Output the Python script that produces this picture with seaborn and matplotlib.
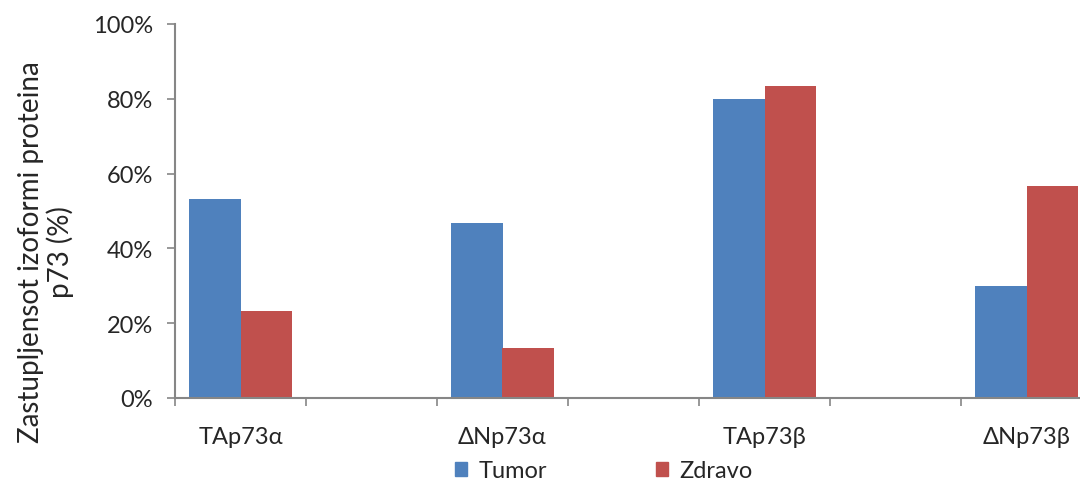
import matplotlib
matplotlib.use("Agg")
import matplotlib.pyplot as plt
import matplotlib.ticker as mticker
import numpy as np
import pandas as pd
import seaborn as sns

# data (fractions)
categories = ["TAp73α", "ΔNp73α", "TAp73β", "ΔNp73β"]
tumor = [0.533, 0.467, 0.800, 0.300]
zdravo = [0.233, 0.133, 0.833, 0.567]
series = ["Tumor", "Zdravo"]
colors = ["#4F81BD", "#C0504D"]

# the original has empty categories between the labelled ones
order = [categories[0], " ", categories[1], "  ", categories[2], "   ", categories[3]]

df = pd.DataFrame({
    "kat": categories * 2,
    "serija": ["Tumor"] * 4 + ["Zdravo"] * 4,
    "vrijednost": tumor + zdravo,
})

sns.set_style("white")
plt.rcParams["font.family"] = ["Lato", "DejaVu Sans"]

fig = plt.figure(figsize=(10.8, 4.81), dpi=100)
ax = fig.add_axes([175 / 1080, 82 / 481, 917 / 1080, 374 / 481])

sns.barplot(data=df, x="kat", y="vrijednost", hue="serija", order=order,
            hue_order=series, palette=colors, width=0.79, saturation=1,
            edgecolor="none", ax=ax, legend=False)

ax.set_xlim(-0.5, len(order) - 0.5)
ax.set_ylim(0, 1)
ax.yaxis.set_major_locator(mticker.MultipleLocator(0.2))
ax.yaxis.set_major_formatter(mticker.PercentFormatter(1.0, decimals=0))

# tick marks at category boundaries, labels at centres
ax.set_xticks(np.arange(len(order) + 1) - 0.5)
ax.set_xticklabels([])
ax.set_xticks(np.arange(len(order)), minor=True)
ax.set_xticklabels(order, minor=True, fontsize=17)
ax.tick_params(axis="x", which="minor", bottom=True, length=0, pad=20)
ax.tick_params(axis="x", which="major", bottom=True, length=6, width=1.2,
               color="#868686", direction="out")
ax.tick_params(axis="y", left=True, length=6, width=1.2, color="#868686",
               direction="out", labelsize=17, pad=10)

for s in ["top", "right"]:
    ax.spines[s].set_visible(False)
for s in ["left", "bottom"]:
    ax.spines[s].set_color("#868686")
    ax.spines[s].set_linewidth(1.5)

ax.set_xlabel("")
ax.set_ylabel("Zastupljensot izoformi proteina\np73 (%)", fontsize=20,
              linespacing=1.1)
ax.yaxis.set_label_coords(-0.110, 0.393)

handles = [plt.Rectangle((0, 0), 1, 1, color=c) for c in colors]
fig.legend(handles, series, loc="center", bbox_to_anchor=(604 / 1080, 1 - 472 / 481),
           ncol=2, frameon=False, fontsize=17, handlelength=0.5, handleheight=0.5,
           handletextpad=0.5, columnspacing=4.6)

fig.savefig("out.png", dpi=100)
